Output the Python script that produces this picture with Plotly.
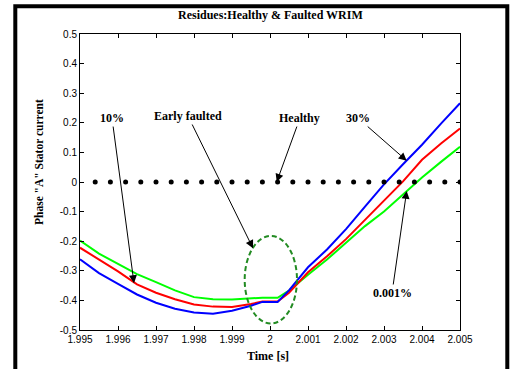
import plotly.graph_objects as go

# ---- data ----
time_s = [1.995, 1.9955, 1.996, 1.9965, 1.997, 1.9975, 1.998, 1.9985, 1.999, 1.9995,
          1.9998, 2.0002, 2.0005, 2.001, 2.0015, 2.002, 2.0025, 2.003, 2.0035, 2.004,
          2.0045, 2.005]
fault_30 = [-0.261, -0.308, -0.344, -0.380, -0.408, -0.428, -0.441, -0.445, -0.435, -0.418,
            -0.405, -0.405, -0.366, -0.288, -0.228, -0.159, -0.083, -0.008, 0.060, 0.126,
            0.197, 0.266]
fault_10 = [-0.222, -0.261, -0.302, -0.346, -0.374, -0.396, -0.414, -0.421, -0.422, -0.412,
            -0.404, -0.404, -0.374, -0.305, -0.251, -0.193, -0.128, -0.064, 0.002, 0.075,
            0.130, 0.181]
fault_0001 = [-0.198, -0.242, -0.277, -0.311, -0.338, -0.366, -0.389, -0.396, -0.397, -0.393,
              -0.391, -0.391, -0.367, -0.313, -0.262, -0.205, -0.149, -0.100, -0.041, 0.015,
              0.068, 0.119]
healthy_t = [1.9954, 1.9958, 1.9962, 1.9966, 1.9970, 1.9974, 1.9978, 1.9982, 1.9986, 1.9990,
             1.9994, 1.9998, 2.0002, 2.0006, 2.0010, 2.0014, 2.0018, 2.0022, 2.0026, 2.0030,
             2.0034, 2.0038, 2.0042, 2.0046, 2.0050]
healthy_v = [0.0] * len(healthy_t)

x_tickvals = [1.995, 1.996, 1.997, 1.998, 1.999, 2.0, 2.001, 2.002, 2.003, 2.004, 2.005]
x_ticktext = ["1.995", "1.996", "1.997", "1.998", "1.999", "2", "2.001", "2.002", "2.003", "2.004", "2.005"]
y_tickvals = [0.5, 0.4, 0.3, 0.2, 0.1, 0.0, -0.1, -0.2, -0.3, -0.4, -0.5]
y_ticktext = ["0.5", "0.4", "0.3", "0.2", "0.1", "0", "-0.1", "-0.2", "-0.3", "-0.4", "-0.5"]

SERIF = "Liberation Serif, Times New Roman, serif"
SANS = "Liberation Sans, Arial, sans-serif"

fig = go.Figure()
fig.add_trace(go.Scatter(x=time_s, y=fault_0001, mode="lines",
                         line=dict(color="#00FF00", width=2), name="0.001%"))
fig.add_trace(go.Scatter(x=time_s, y=fault_10, mode="lines",
                         line=dict(color="#FF0000", width=2), name="10%"))
fig.add_trace(go.Scatter(x=time_s, y=fault_30, mode="lines",
                         line=dict(color="#0000FF", width=2), name="30%"))
fig.add_trace(go.Scatter(x=healthy_t, y=healthy_v, mode="markers",
                         marker=dict(color="black", size=5), name="Healthy"))

axis_common = dict(showline=True, linecolor="black", linewidth=1, mirror="ticks",
                   ticks="inside", ticklen=4, tickcolor="black", tickwidth=1,
                   showgrid=False, zeroline=False,
                   tickfont=dict(family=SANS, size=10, color="black"))
fig.update_xaxes(range=[1.995, 2.005], tickvals=x_tickvals, ticktext=x_ticktext, **axis_common)
fig.update_yaxes(range=[-0.5, 0.5], tickvals=y_tickvals, ticktext=y_ticktext, **axis_common)

ann_font = dict(family=SERIF, size=12, color="black")
arrows = [
    ("10%", 1.995842, 0.216, 1.996421, -0.342),
    ("Early faulted", 1.997842, 0.223, 1.999553, -0.224),
    ("Healthy", 2.000789, 0.216, 2.000176, 0.0),
    ("30%", 2.002316, 0.216, 2.003597, 0.072),
    ("0.001%", 2.003211, -0.375, 2.003597, -0.030),
]
annotations = []
for txt, ax, ay, x, y in arrows:
    annotations.append(dict(text="<b>%s</b>" % txt, x=x, y=y, ax=ax, ay=ay,
                            xref="x", yref="y", axref="x", ayref="y",
                            showarrow=True, arrowhead=2, arrowsize=1.6, arrowwidth=1,
                            arrowcolor="black", standoff=0, font=ann_font))

annotations += [
    dict(text="<b>Residues:Healthy &amp; Faulted WRIM</b>", x=0.5, y=(330 - 15) / 296,
         xref="paper", yref="paper", showarrow=False, xanchor="center", yanchor="middle",
         font=dict(family=SERIF, size=12, color="black")),
    dict(text="<b>Time [s]</b>", x=(268 - 80) / 380, y=(330 - 356) / 296,
         xref="paper", yref="paper", showarrow=False, xanchor="center", yanchor="middle",
         font=dict(family=SERIF, size=12, color="black")),
    dict(text="<b>Phase \"A\" Stator current</b>", x=(39 - 80) / 380, y=(330 - 162) / 296,
         xref="paper", yref="paper", showarrow=False, xanchor="center", yanchor="middle",
         textangle=-90, font=dict(family=SERIF, size=11.5, color="black")),
]

shapes = [
    dict(type="circle", xref="x", yref="y", x0=1.999334, x1=2.00071, y0=-0.478, y1=-0.182,
         line=dict(color="#228B22", width=2, dash="5px,3px")),
    dict(type="rect", xref="paper", yref="paper",
         x0=(15.3 - 80) / 380, x1=(507.3 - 80) / 380,
         y0=(330 - 380) / 296, y1=(330 - 6.3) / 296,
         line=dict(color="black", width=4)),
]

fig.update_layout(width=512, height=369, margin=dict(l=80, r=52, t=34, b=39),
                  plot_bgcolor="white", paper_bgcolor="white", showlegend=False,
                  annotations=annotations, shapes=shapes)

fig.write_html("out.html", config={"displayModeBar": False},
               post_script="document.body.style.margin='0';document.body.style.padding='0';document.body.style.overflow='hidden';")
